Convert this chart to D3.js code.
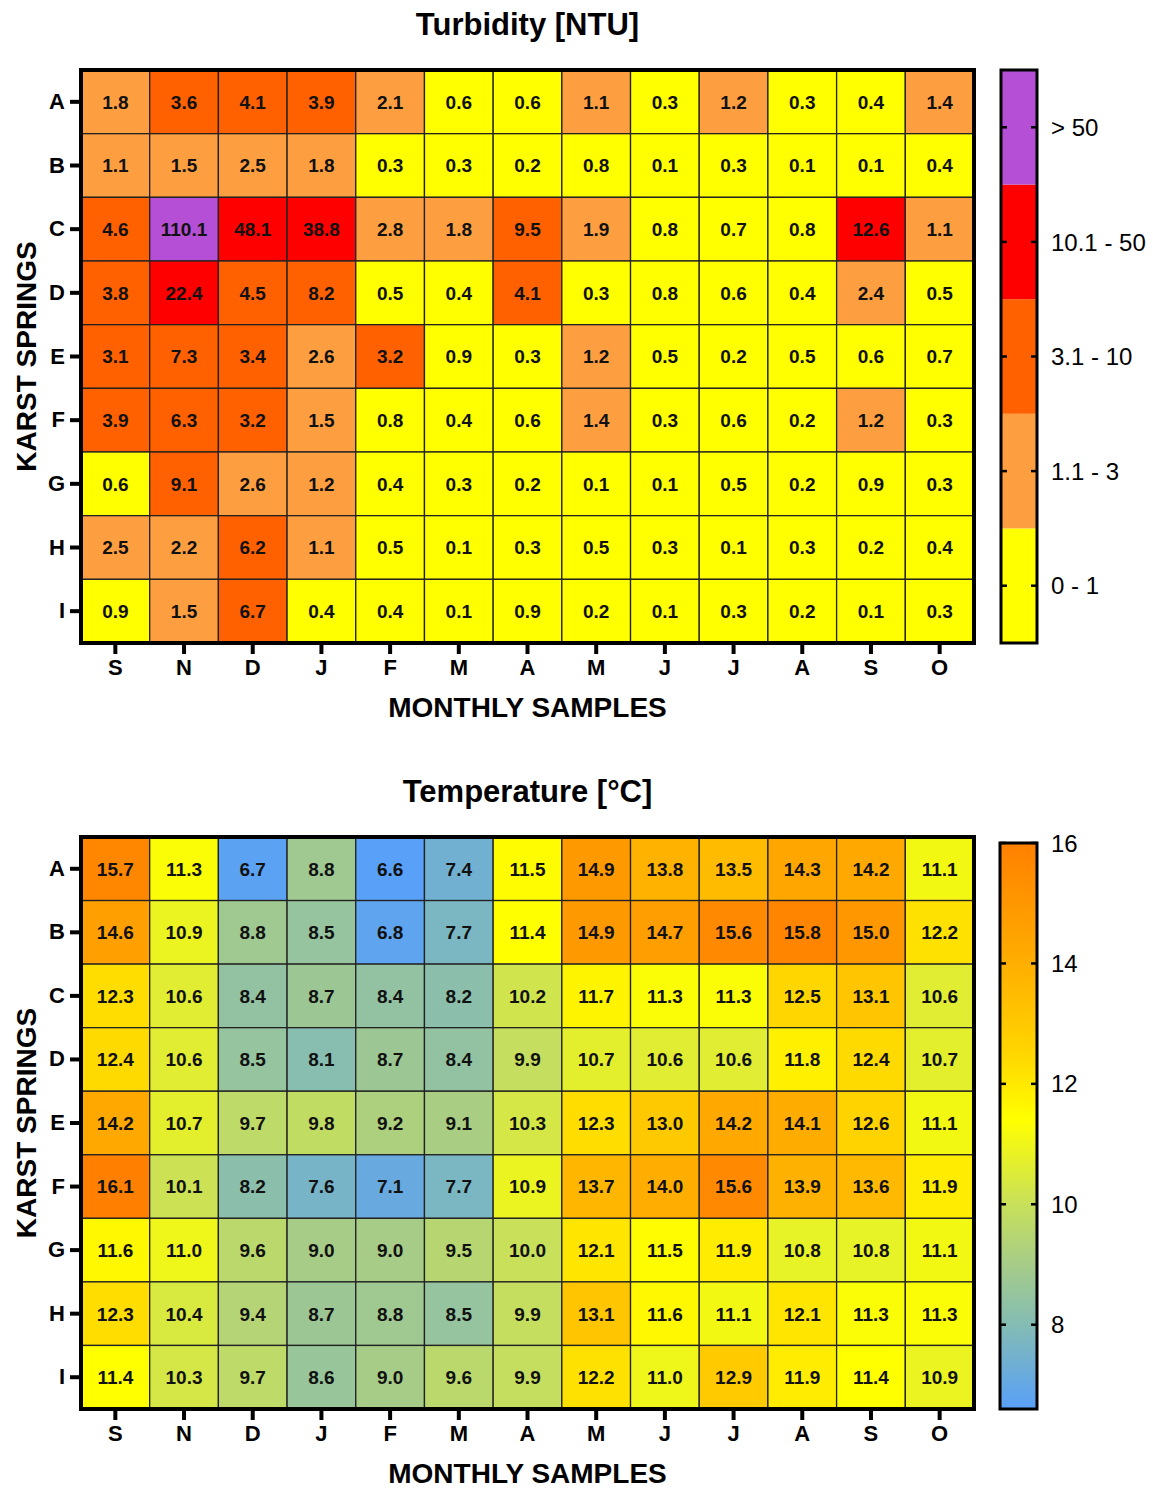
<!DOCTYPE html>
<html>
  <head>
    <title>Karst springs heatmaps</title>
    <style>
      body { margin: 0; background: #fff; }
      text { font-family: "Liberation Sans", Arial, sans-serif; }
    </style>
  </head>
  <body>
    <svg width="1153" height="1489"></svg>

    <script src="https://d3js.org/d3.v7.min.js"></script>
    <script>

      var months = ["S", "N", "D", "J", "F", "M", "A", "M", "J", "J", "A", "S", "O"];
      var springs = ["A", "B", "C", "D", "E", "F", "G", "H", "I"];

      var turbidity = [
        [1.8, 3.6, 4.1, 3.9, 2.1, 0.6, 0.6, 1.1, 0.3, 1.2, 0.3, 0.4, 1.4],
        [1.1, 1.5, 2.5, 1.8, 0.3, 0.3, 0.2, 0.8, 0.1, 0.3, 0.1, 0.1, 0.4],
        [4.6, 110.1, 48.1, 38.8, 2.8, 1.8, 9.5, 1.9, 0.8, 0.7, 0.8, 12.6, 1.1],
        [3.8, 22.4, 4.5, 8.2, 0.5, 0.4, 4.1, 0.3, 0.8, 0.6, 0.4, 2.4, 0.5],
        [3.1, 7.3, 3.4, 2.6, 3.2, 0.9, 0.3, 1.2, 0.5, 0.2, 0.5, 0.6, 0.7],
        [3.9, 6.3, 3.2, 1.5, 0.8, 0.4, 0.6, 1.4, 0.3, 0.6, 0.2, 1.2, 0.3],
        [0.6, 9.1, 2.6, 1.2, 0.4, 0.3, 0.2, 0.1, 0.1, 0.5, 0.2, 0.9, 0.3],
        [2.5, 2.2, 6.2, 1.1, 0.5, 0.1, 0.3, 0.5, 0.3, 0.1, 0.3, 0.2, 0.4],
        [0.9, 1.5, 6.7, 0.4, 0.4, 0.1, 0.9, 0.2, 0.1, 0.3, 0.2, 0.1, 0.3]
      ];

      var temperature = [
        [15.7, 11.3, 6.7, 8.8, 6.6, 7.4, 11.5, 14.9, 13.8, 13.5, 14.3, 14.2, 11.1],
        [14.6, 10.9, 8.8, 8.5, 6.8, 7.7, 11.4, 14.9, 14.7, 15.6, 15.8, 15.0, 12.2],
        [12.3, 10.6, 8.4, 8.7, 8.4, 8.2, 10.2, 11.7, 11.3, 11.3, 12.5, 13.1, 10.6],
        [12.4, 10.6, 8.5, 8.1, 8.7, 8.4, 9.9, 10.7, 10.6, 10.6, 11.8, 12.4, 10.7],
        [14.2, 10.7, 9.7, 9.8, 9.2, 9.1, 10.3, 12.3, 13.0, 14.2, 14.1, 12.6, 11.1],
        [16.1, 10.1, 8.2, 7.6, 7.1, 7.7, 10.9, 13.7, 14.0, 15.6, 13.9, 13.6, 11.9],
        [11.6, 11.0, 9.6, 9.0, 9.0, 9.5, 10.0, 12.1, 11.5, 11.9, 10.8, 10.8, 11.1],
        [12.3, 10.4, 9.4, 8.7, 8.8, 8.5, 9.9, 13.1, 11.6, 11.1, 12.1, 11.3, 11.3],
        [11.4, 10.3, 9.7, 8.6, 9.0, 9.6, 9.9, 12.2, 11.0, 12.9, 11.9, 11.4, 10.9]
      ];

      var turbClasses = ["0 - 1", "1.1 - 3", "3.1 - 10", "10.1 - 50", "> 50"];
      var turbBreaks = [1.05, 3.05, 10.05, 50.05];
      var turbColors = ["#ffff00", "#fd9f40", "#ff6000", "#ff0000", "#b550d6"];

      var tempTicks = [8, 10, 12, 14, 16];
      var tempStops = [6.6, 8, 9, 10, 11.4, 12.5, 14, 16];
      var tempColors = ["#58a0f8", "#84bcb4", "#a6cc88", "#c8e05a", "#ffff00", "#ffd600", "#ffae00", "#ff8000"];

      var svg = d3.select("svg");

      var turbColor = d3.scaleThreshold().domain(turbBreaks).range(turbColors);
      var tempColor = d3.scaleLinear().domain(tempStops).range(tempColors).clamp(true);

      function heatmap(top, bottom, title, values, color, fmt) {
        var left = 81, right = 974;
        var g = svg.append("g");

        var x = d3.scaleBand().domain(d3.range(months.length)).range([left, right]);
        var y = d3.scaleBand().domain(d3.range(springs.length)).range([top, bottom]);

        var cells = [];
        values.forEach(function (row, i) {
          row.forEach(function (v, j) { cells.push({ r: i, c: j, v: v }); });
        });

        g.selectAll("rect.cell")
          .data(cells)
          .enter().append("rect")
          .attr("class", "cell")
          .attr("x", function (d) { return x(d.c); })
          .attr("y", function (d) { return y(d.r); })
          .attr("width", x.bandwidth())
          .attr("height", y.bandwidth())
          .attr("fill", function (d) { return color(d.v); })
          .attr("stroke", "#222")
          .attr("stroke-width", 1.3);

        g.selectAll("text.val")
          .data(cells)
          .enter().append("text")
          .attr("x", function (d) { return x(d.c) + x.bandwidth() / 2; })
          .attr("y", function (d) { return y(d.r) + y.bandwidth() / 2; })
          .attr("dy", "0.36em")
          .attr("text-anchor", "middle")
          .style("font-size", "19px")
          .style("font-weight", "bold")
          .attr("fill", "#111")
          .text(function (d) { return fmt(d.v); });

        g.append("rect")
          .attr("x", left).attr("y", top)
          .attr("width", right - left).attr("height", bottom - top)
          .attr("fill", "none").attr("stroke", "#000").attr("stroke-width", 4);

        var xAxis = g.append("g")
          .attr("transform", "translate(0," + (bottom + 2) + ")")
          .call(d3.axisBottom(x).tickSize(9).tickPadding(5).tickFormat(function (i) { return months[i]; }));
        var yAxis = g.append("g")
          .attr("transform", "translate(" + (left - 2) + ",0)")
          .call(d3.axisLeft(y).tickSize(9).tickPadding(5).tickFormat(function (i) { return springs[i]; }));
        [xAxis, yAxis].forEach(function (a) {
          a.select(".domain").remove();
          a.selectAll(".tick line").attr("stroke", "#000").attr("stroke-width", 4);
          a.selectAll(".tick text")
            .style("font-family", "'Liberation Sans', Arial, sans-serif")
            .style("font-size", "22px").style("font-weight", "bold").attr("fill", "#000");
        });

        g.append("text")
          .attr("x", (left + right) / 2).attr("y", top - 35)
          .attr("text-anchor", "middle")
          .style("font-size", "31px").style("font-weight", "bold")
          .text(title);

        g.append("text")
          .attr("x", (left + right) / 2).attr("y", bottom + 74)
          .attr("text-anchor", "middle")
          .style("font-size", "28px").style("font-weight", "bold")
          .text("MONTHLY SAMPLES");

        g.append("text")
          .attr("transform", "translate(36," + ((top + bottom) / 2) + ") rotate(-90)")
          .attr("text-anchor", "middle")
          .style("font-size", "28px").style("font-weight", "bold")
          .text("KARST SPRINGS");
      }

      function barTicks(g, x0, x1, ys) {
        ys.forEach(function (yy) {
          g.append("line").attr("x1", x0).attr("x2", x0 + 6).attr("y1", yy).attr("y2", yy)
            .attr("stroke", "#000").attr("stroke-width", 2.5);
          g.append("line").attr("x1", x1 - 6).attr("x2", x1).attr("y1", yy).attr("y2", yy)
            .attr("stroke", "#000").attr("stroke-width", 2.5);
        });
      }

      // turbidity map + class legend
      heatmap(70, 643, "Turbidity [NTU]", turbidity, turbColor, function (v) { return v.toFixed(1); });

      var bx0 = 1001, bx1 = 1037;
      var lg1 = svg.append("g");
      var yb = d3.scaleBand().domain(d3.range(turbClasses.length).reverse()).range([70, 643]);
      lg1.selectAll("rect")
        .data(d3.range(turbClasses.length))
        .enter().append("rect")
        .attr("x", bx0).attr("width", bx1 - bx0)
        .attr("y", function (i) { return yb(i); })
        .attr("height", yb.bandwidth())
        .attr("fill", function (i) { return turbColors[i]; });
      lg1.append("rect").attr("x", bx0).attr("y", 70).attr("width", bx1 - bx0).attr("height", 573)
        .attr("fill", "none").attr("stroke", "#000").attr("stroke-width", 3);
      barTicks(lg1, bx0, bx1, d3.range(turbClasses.length).map(function (i) { return yb(i) + yb.bandwidth() / 2; }));
      lg1.selectAll("text")
        .data(d3.range(turbClasses.length))
        .enter().append("text")
        .attr("x", 1051)
        .attr("y", function (i) { return yb(i) + yb.bandwidth() / 2; })
        .attr("dy", "0.36em")
        .style("font-size", "24px")
        .text(function (i) { return turbClasses[i]; });

      // temperature map + gradient legend
      heatmap(837, 1409, "Temperature [\u00b0C]", temperature, tempColor, function (v) { return v.toFixed(1); });

      var yt = d3.scaleLinear().domain([6.6, 16]).range([1409, 843]);
      var grad = svg.append("defs").append("linearGradient")
        .attr("id", "tempGrad").attr("x1", 0).attr("x2", 0).attr("y1", 1).attr("y2", 0);
      tempStops.forEach(function (s, i) {
        grad.append("stop")
          .attr("offset", (s - 6.6) / (16 - 6.6))
          .attr("stop-color", tempColors[i]);
      });
      var lg2 = svg.append("g");
      lg2.append("rect").attr("x", bx0 - 1).attr("y", yt(16)).attr("width", bx1 - bx0 + 1)
        .attr("height", yt(6.6) - yt(16))
        .attr("fill", "url(#tempGrad)").attr("stroke", "#000").attr("stroke-width", 3);
      barTicks(lg2, bx0 - 1, bx1, tempTicks.map(yt));
      lg2.selectAll("text")
        .data(tempTicks)
        .enter().append("text")
        .attr("x", 1051)
        .attr("y", function (d) { return yt(d); })
        .attr("dy", "0.36em")
        .style("font-size", "24px")
        .text(function (d) { return d; });

    </script>
  </body>
</html>
